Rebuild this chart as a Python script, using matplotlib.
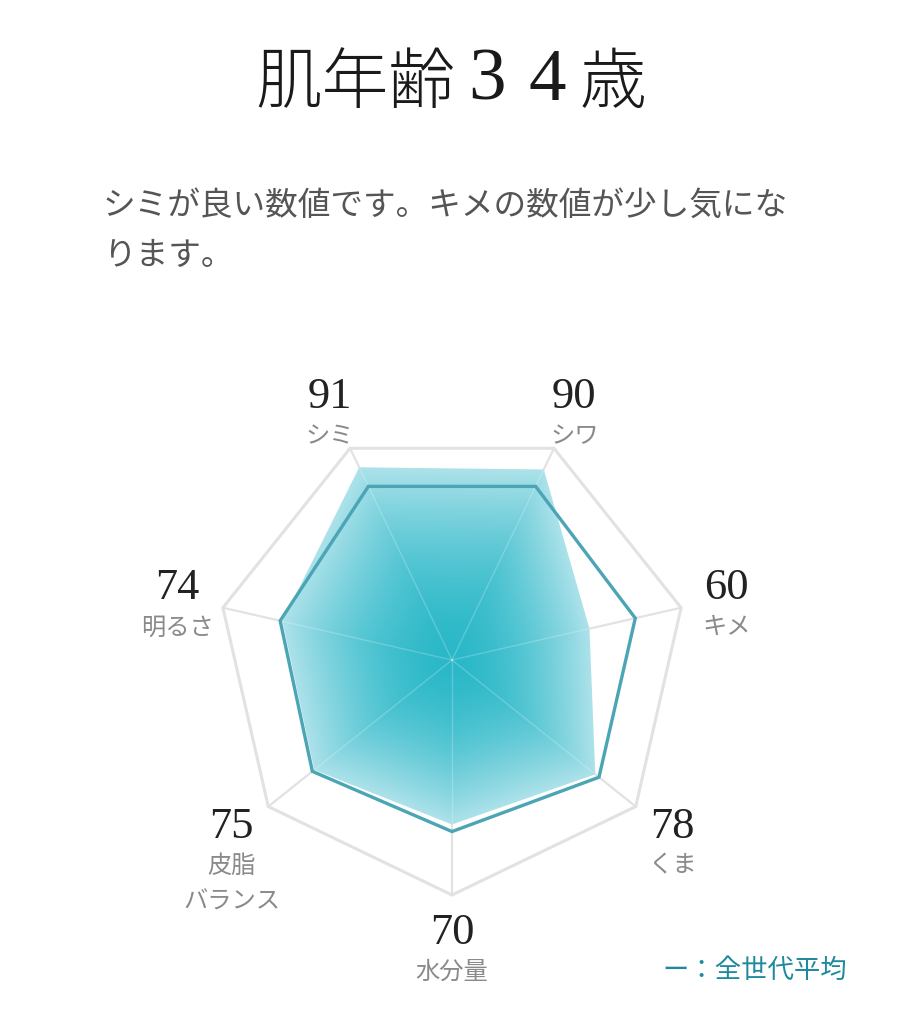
import numpy as np
import matplotlib
matplotlib.use("Agg")
import matplotlib.pyplot as plt
from matplotlib.patches import Polygon
from matplotlib.colors import to_rgb

plt.rcParams['font.family'] = ['Noto Sans CJK JP', 'DejaVu Sans']

# data
categories = ['シミ', 'シワ', 'キメ', 'くま', '水分量', '皮脂\nバランス', '明るさ']
scores = [91, 90, 60, 78, 70, 75, 74]
average = [82, 82, 80, 80, 73, 76, 75]
title_parts = ['肌年齢', '3', '4', '歳']
comment_lines = ['シミが良い数値です。キメの数値が少し気にな', 'ります。']
legend_label = 'ー：全世代平均'

W, H = 904, 1024
fig = plt.figure(figsize=(W / 100, H / 100), dpi=100)
fig.patch.set_facecolor('white')


def fx(px):
    return px / W


def fy(py):
    return 1 - py / H


# title (mincho look approximated with a light sans + serif digits)
fig.text(fx(255), fy(84), title_parts[0], fontsize=48, color='#1a1a1a',
         fontweight='light', ha='left', va='center')
fig.text(fx(468), fy(82), title_parts[1], fontsize=54, color='#1a1a1a',
         family='Liberation Serif', ha='left', va='center')
fig.text(fx(528), fy(82), title_parts[2], fontsize=54, color='#1a1a1a',
         family='Liberation Serif', ha='left', va='center')
fig.text(fx(580), fy(84), title_parts[3], fontsize=48, color='#1a1a1a',
         fontweight='light', ha='left', va='center')

for i, line in enumerate(comment_lines):
    fig.text(fx(103), fy(206 + 50 * i), line, fontsize=23.5, color='#555555',
             ha='left', va='center')

fig.text(fx(662), fy(970), legend_label, fontsize=19, color='#1f8a9e',
         ha='left', va='center')

# radar axes: center (452, 660) px, radius 100 -> 235 px
R_PX = 235
HALF = 300
S = HALF / R_PX * 100
U = 100 / R_PX   # value units per pixel
ax = fig.add_axes([fx(452 - HALF), fy(660 + HALF), 2 * HALF / W, 2 * HALF / H])
ax.set_xlim(-S, S)
ax.set_ylim(-S, S)
ax.set_aspect('equal')
ax.axis('off')

n = len(categories)
theta = -np.pi / n + np.arange(n) * 2 * np.pi / n   # clockwise from top


def xy(vals):
    vals = np.asarray(vals, dtype=float)
    return np.column_stack([vals * np.sin(theta), vals * np.cos(theta)])


grid_col = '#e2e2e2'
outer = xy([100] * n)
ax.add_patch(Polygon(outer, closed=True, fill=False, ec=grid_col, lw=2.2, zorder=1))
for px, py in outer:
    ax.plot([0, px], [0, py], color=grid_col, lw=1.6, zorder=1)

# gradient fill, normalised to the score polygon's edge along each ray
pts = xy(scores)
g = np.linspace(-100, 100, 600)
gx, gy = np.meshgrid(g, g)
r = np.hypot(gx, gy)
phi = np.arctan2(gx, gy)
step = 2 * np.pi / n
k = (np.floor(((phi - theta[0]) % (2 * np.pi)) / step)).astype(int) % n
p0 = pts[k]
p1 = pts[(k + 1) % n]
e = p1 - p0
dx, dy = np.sin(phi), np.cos(phi)
num = p0[..., 0] * e[..., 1] - p0[..., 1] * e[..., 0]
den = dx * e[..., 1] - dy * e[..., 0]
edge = num / np.where(np.abs(den) < 1e-9, 1e-9, den)
t = np.clip(r / edge, 0, 1) ** 1.7
c0 = np.array(to_rgb('#2ab8c8'))
c1 = np.array(to_rgb('#ade2ea'))
img = c0 + (c1 - c0) * t[..., None]
poly = Polygon(pts, closed=True, fc='none', ec='none', zorder=2)
ax.add_patch(poly)
im = ax.imshow(img, extent=[-100, 100, -100, 100], origin='lower',
               interpolation='bilinear', zorder=2)
im.set_clip_path(poly)

# faint spokes over the fill
for px, py in outer:
    ln, = ax.plot([0, px], [0, py], color='white', lw=1.0, alpha=0.22, zorder=3)
    ln.set_clip_path(poly)

# all-generation average line
avg = xy(average)
ax.add_patch(Polygon(avg, closed=True, fill=False, ec='#4ba5b5', lw=2.4,
                     joinstyle='miter', zorder=4))

# labels
for i in range(n):
    lx = 120 * np.sin(theta[i])
    ly = 120 * np.cos(theta[i]) + 3.8
    ax.text(lx, ly, str(scores[i]), fontsize=32, family='Liberation Serif',
            color='#222222', ha='center', va='center')
    for j, part in enumerate(categories[i].split('\n')):
        ax.text(lx, ly - (39 + 36 * j) * U, part, fontsize=17.5, color='#8a8a8a',
                ha='center', va='center')

fig.savefig('out.png', dpi=100, facecolor='white')
